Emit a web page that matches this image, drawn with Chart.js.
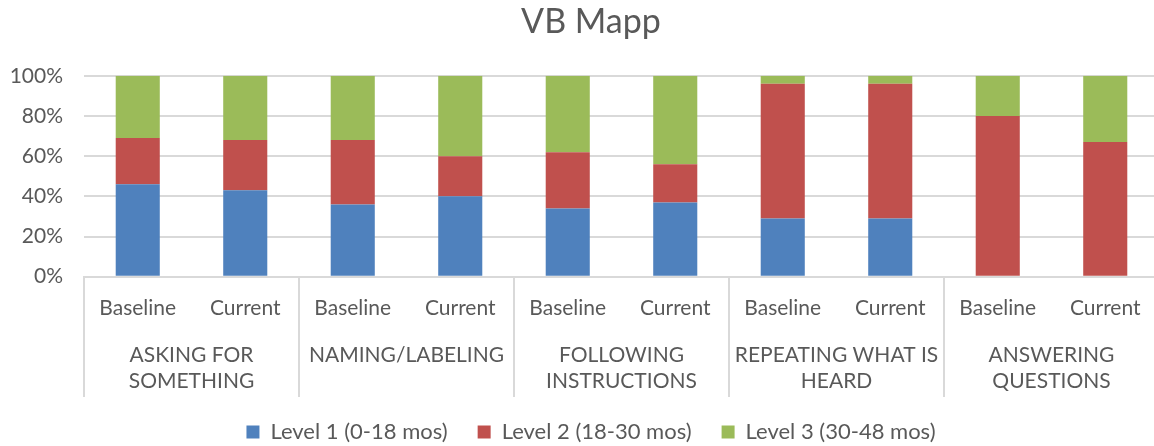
<!DOCTYPE html>
<html>
<head>
<meta charset="utf-8">
<script src="https://cdn.jsdelivr.net/npm/chart.js@4"></script>
<style>
  body { margin: 0; overflow: hidden; background: #fff; }
  #wrap { width: 1182px; height: 446px; }
</style>
</head>
<body>
<div id="wrap"><canvas id="vbChart"></canvas></div>
<script>
const groups = [
  ['ASKING FOR', 'SOMETHING'],
  ['NAMING/LABELING', ''],
  ['FOLLOWING', 'INSTRUCTIONS'],
  ['REPEATING WHAT IS', 'HEARD'],
  ['ANSWERING', 'QUESTIONS']
];
const subLabels = ['Baseline', 'Current', 'Baseline', 'Current', 'Baseline', 'Current', 'Baseline', 'Current', 'Baseline', 'Current'];
const level1 = [46, 43, 36, 40, 34, 37, 29, 29, 0, 0];
const level2 = [23, 25, 32, 20, 28, 19, 67, 67, 80, 67];
const level3 = [31, 32, 32, 40, 38, 44, 4, 4, 20, 33];
const yTicks = [0, 20, 40, 60, 80, 100];

const grey = '#595959';
const lineGrey = '#d9d9d9';
const font = 'Lato, "Open Sans", sans-serif';

// vertical separators between groups, running down through the label rows
const groupLines = {
  id: 'groupLines',
  afterDraw(chart) {
    const x = chart.scales.x, x2 = chart.scales.x2;
    const step = x.getPixelForValue(1) - x.getPixelForValue(0);
    const ctx = chart.ctx;
    ctx.save();
    ctx.strokeStyle = lineGrey;
    ctx.lineWidth = 2;
    for (let i = 0; i <= groups.length; i++) {
      const px = Math.round(x.getPixelForValue(i * 2) - step / 2);
      ctx.beginPath();
      ctx.moveTo(px, chart.chartArea.bottom);
      ctx.lineTo(px, x2.bottom + 6);
      ctx.stroke();
    }
    ctx.restore();
  }
};

new Chart(document.getElementById('vbChart'), {
  type: 'bar',
  data: {
    labels: subLabels,
    datasets: [
      { label: 'Level 1 (0-18 mos)', data: level1, backgroundColor: '#4f81bd' },
      { label: 'Level 2 (18-30 mos)', data: level2, backgroundColor: '#c0504d' },
      { label: 'Level 3 (30-48 mos)', data: level3, backgroundColor: '#9bbb59' }
    ]
  },
  options: {
    responsive: true,
    maintainAspectRatio: false,
    animation: false,
    barPercentage: 0.41,
    categoryPercentage: 1,
    layout: { padding: { left: 0, right: 0, top: 2, bottom: 0 } },
    scales: {
      x: {
        stacked: true,
        grid: { display: false, drawTicks: false },
        border: { color: lineGrey, width: 2 },
        ticks: { color: grey, font: { family: font, size: 21 }, padding: 19, maxRotation: 0, autoSkip: false }
      },
      x2: {
        type: 'category',
        position: 'bottom',
        labels: groups,
        offset: true,
        weight: 1,
        grid: { display: false, drawTicks: false },
        border: { display: false },
        ticks: { color: grey, font: { family: font, size: 21, lineHeight: 1.24 }, padding: 2, maxRotation: 0, autoSkip: false },
        afterFit(scale) { scale.height -= 5; }
      },
      y: {
        stacked: true,
        min: 0,
        max: 100,
        afterBuildTicks(axis) { axis.ticks = yTicks.map(v => ({ value: v })); },
        afterFit(scale) { scale.width = 84; },
        grid: { color: lineGrey, lineWidth: 2, drawTicks: false },
        border: { display: false },
        ticks: { color: grey, font: { family: font, size: 21 }, padding: 21, autoSkip: false, callback: v => v + '%' }
      },
      // empty right-hand axis: keeps the plot short of the canvas edge
      yRight: {
        position: 'right',
        display: true,
        grid: { display: false, drawTicks: false },
        border: { display: false },
        ticks: { display: false },
        afterFit(scale) { scale.width = 23; }
      }
    },
    plugins: {
      title: {
        display: true,
        text: 'VB Mapp',
        color: grey,
        font: { family: font, size: 34, weight: 'normal' },
        padding: { top: 0, bottom: 33 }
      },
      legend: {
        position: 'bottom',
        maxHeight: 55,
        labels: { color: grey, font: { family: font, size: 22 }, boxWidth: 13, boxHeight: 13, padding: 30 }
      },
      tooltip: { enabled: false }
    }
  },
  plugins: [groupLines]
});
</script>
</body>
</html>
